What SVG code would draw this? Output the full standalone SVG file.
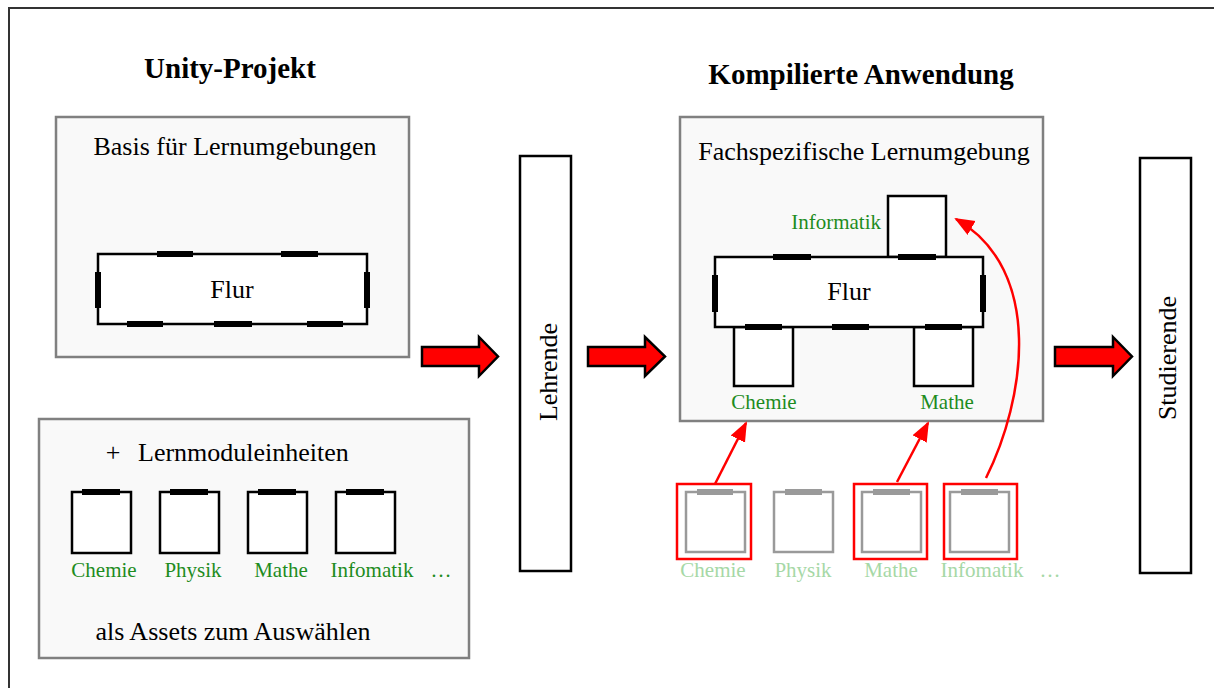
<svg xmlns="http://www.w3.org/2000/svg" width="1214" height="688" viewBox="0 0 1214 688">
<defs>
<style>
.t{font-family:"Liberation Serif","Times New Roman",serif;fill:#000}
.big{font-size:26px}
.title{font-size:29px;font-weight:bold}
.g{font-size:21px;fill:#1e8c1e}
.lg{font-size:21px;fill:#a6d8a6}
.panel{fill:#f9f9f9;stroke:#808080;stroke-width:2.5}
.wall{fill:#fff;stroke:#000;stroke-width:2.5}
.door{stroke:#000;stroke-width:6}
.gwall{fill:#fff;stroke:#9a9a9a;stroke-width:2.5}
.gdoor{stroke:#9a9a9a;stroke-width:6}
.sel{fill:none;stroke:#ff0000;stroke-width:2.5}
.bar{fill:#fff;stroke:#000;stroke-width:2.5}
.blk{fill:#ff0000;stroke:#000;stroke-width:2.5;stroke-linejoin:miter}
.rl{fill:none;stroke:#ff0000;stroke-width:2.5}
</style>
<marker id="ah2" markerWidth="20" markerHeight="20" refX="18" refY="10" orient="auto" markerUnits="userSpaceOnUse" viewBox="0 0 20 20">
<path d="M0,2 L20,10 L0,18 Z" fill="#ff0000"/>
</marker>
</defs>
<rect x="0" y="0" width="1214" height="688" fill="#fff"/>
<rect id="frame" x="9" y="8" width="1220" height="700" fill="none" stroke="#333" stroke-width="2"/>

<g id="unity-title"><text class="t title" x="230" y="78" text-anchor="middle">Unity-Projekt</text></g>
<g id="compiled-title"><text class="t title" x="861" y="84" text-anchor="middle">Kompilierte Anwendung</text></g>

<g id="basis">
<rect class="panel" x="56" y="117" width="353" height="240"/>
<text class="t big" x="235" y="155" text-anchor="middle">Basis für Lernumgebungen</text>
<rect class="wall" x="98" y="254" width="269" height="70"/>
<line class="door" x1="157" y1="254" x2="193" y2="254"/>
<line class="door" x1="281" y1="254" x2="318" y2="254"/>
<line class="door" x1="127" y1="324" x2="163" y2="324"/>
<line class="door" x1="214" y1="324" x2="252" y2="324"/>
<line class="door" x1="307" y1="324" x2="343" y2="324"/>
<line class="door" x1="98" y1="272" x2="98" y2="308"/>
<line class="door" x1="367" y1="272" x2="367" y2="308"/>
<text class="t big" x="232" y="298" text-anchor="middle">Flur</text>
</g>

<g id="module-assets">
<rect class="panel" x="39" y="419" width="430" height="239"/>
<text class="t big" x="113" y="461" text-anchor="middle">+</text>
<text class="t big" x="138" y="461">Lernmoduleinheiten</text>
<rect class="wall" x="72" y="492" width="59" height="61"/>
<line class="door" x1="82" y1="492" x2="120" y2="492"/>
<rect class="wall" x="160" y="492" width="59" height="61"/>
<line class="door" x1="170" y1="492" x2="208" y2="492"/>
<rect class="wall" x="248" y="492" width="59" height="61"/>
<line class="door" x1="258" y1="492" x2="296" y2="492"/>
<rect class="wall" x="336" y="492" width="59" height="61"/>
<line class="door" x1="346" y1="492" x2="384" y2="492"/>
<text class="t g" x="104" y="577" text-anchor="middle">Chemie</text>
<text class="t g" x="193" y="577" text-anchor="middle">Physik</text>
<text class="t g" x="281" y="577" text-anchor="middle">Mathe</text>
<text class="t g" x="372" y="577" text-anchor="middle">Infomatik</text>
<text class="t g" x="441" y="577" text-anchor="middle">…</text>
<text class="t big" x="233" y="640" text-anchor="middle">als Assets zum Auswählen</text>
</g>

<g id="lehrende">
<rect class="bar" x="520" y="156" width="51" height="415"/>
<text class="t big" transform="translate(557,372) rotate(-90)" text-anchor="middle">Lehrende</text>
</g>

<g id="studierende">
<rect class="bar" x="1140" y="158" width="51" height="415"/>
<text class="t big" transform="translate(1176,358) rotate(-90)" text-anchor="middle">Studierende</text>
</g>

<g id="lernumgebung">
<rect class="panel" x="680" y="117" width="363" height="304"/>
<text class="t big" x="864" y="160" text-anchor="middle">Fachspezifische Lernumgebung</text>
<rect class="wall" x="888" y="196" width="58" height="61"/>
<rect class="wall" x="734" y="327" width="59" height="59"/>
<rect class="wall" x="914" y="327" width="59" height="59"/>
<rect class="wall" x="715" y="257" width="268" height="70"/>
<line class="door" x1="773" y1="257" x2="811" y2="257"/>
<line class="door" x1="898" y1="257" x2="936" y2="257"/>
<line class="door" x1="745" y1="327" x2="782" y2="327"/>
<line class="door" x1="832" y1="327" x2="869" y2="327"/>
<line class="door" x1="925" y1="327" x2="962" y2="327"/>
<line class="door" x1="715" y1="275" x2="715" y2="312"/>
<line class="door" x1="983" y1="275" x2="983" y2="312"/>
<text class="t big" x="849" y="300" text-anchor="middle">Flur</text>
<text class="t g" x="881" y="229" text-anchor="end">Informatik</text>
<text class="t g" x="764" y="409" text-anchor="middle">Chemie</text>
<text class="t g" x="947" y="409" text-anchor="middle">Mathe</text>
</g>

<g id="selected-modules">
<rect class="gwall" x="686" y="492" width="59" height="60"/>
<line class="gdoor" x1="697" y1="492" x2="733" y2="492"/>
<rect class="sel" x="677" y="484" width="74" height="75"/>
<rect class="gwall" x="774" y="492" width="59" height="60"/>
<line class="gdoor" x1="785" y1="492" x2="822" y2="492"/>
<rect class="gwall" x="862" y="492" width="59" height="60"/>
<line class="gdoor" x1="873" y1="492" x2="910" y2="492"/>
<rect class="sel" x="854" y="484" width="73" height="75"/>
<rect class="gwall" x="950" y="492" width="59" height="60"/>
<line class="gdoor" x1="961" y1="492" x2="998" y2="492"/>
<rect class="sel" x="944" y="484" width="73" height="75"/>
<text class="t lg" x="713" y="577" text-anchor="middle">Chemie</text>
<text class="t lg" x="803" y="577" text-anchor="middle">Physik</text>
<text class="t lg" x="891" y="577" text-anchor="middle">Mathe</text>
<text class="t lg" x="982" y="577" text-anchor="middle">Infomatik</text>
<text class="t lg" x="1050" y="577" text-anchor="middle">…</text>
</g>

<g id="connectors">
<path class="blk" d="M422,347 H479 V337 L498,356.5 L479,376 V366 H422 Z"/>
<path class="blk" d="M588,347 H645 V337 L665,356.5 L645,376 V366 H588 Z"/>
<path class="blk" d="M1055,347 H1113 V337 L1132,356.5 L1113,376 V366 H1055 Z"/>
<line class="rl" x1="715" y1="484" x2="746" y2="423" marker-end="url(#ah2)"/>
<line class="rl" x1="897" y1="482" x2="928" y2="423" marker-end="url(#ah2)"/>
<path class="rl" d="M986,478 C1025,400 1045,270 956,219" marker-end="url(#ah2)"/>
</g>
</svg>
